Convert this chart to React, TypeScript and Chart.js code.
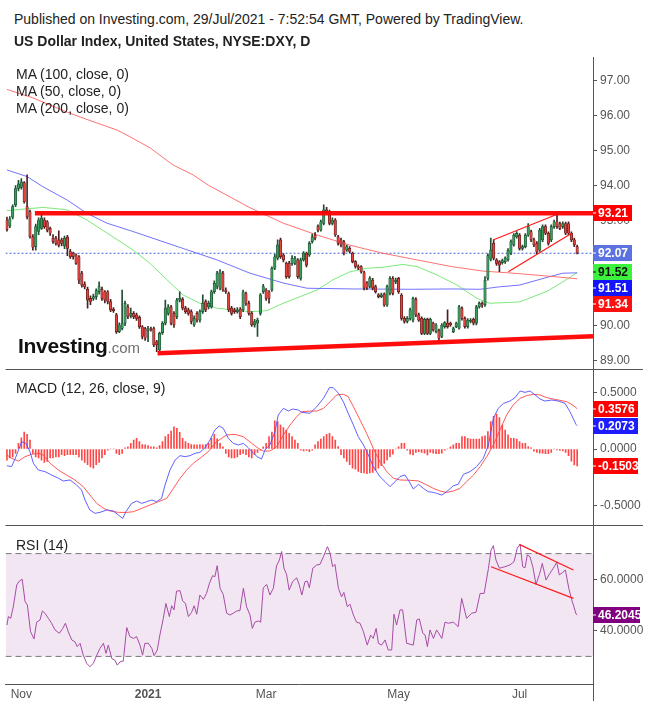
import React, { useEffect, useRef } from 'react';
import { Chart, registerables } from 'chart.js';

Chart.register(...registerables);

const FONT = "'Liberation Sans', Arial, Helvetica, sans-serif";

// ---------------- data (bar index = trading day, 0 .. 198) ----------------
const openPrices = [
  93.02, 92.85, 93.10, 93.45, 93.92, 93.95, 94.09, 93.40, 93.26, 92.54,
  92.26, 92.69, 92.78, 93.02, 92.97, 92.78, 92.50, 92.50, 92.45, 92.45,
  92.28, 92.53, 92.12, 92.07, 92.02, 91.97, 91.50, 91.19, 91.04, 90.78,
  90.78, 90.83, 90.97, 91.04, 90.97, 90.97, 90.69, 90.47, 90.31, 89.83,
  89.92, 90.07, 90.54, 90.28, 90.35, 90.31, 90.24, 89.97, 89.92, 89.86,
  89.92, 89.92, 89.54, 89.31, 89.80, 90.07, 90.35, 90.54, 90.35, 90.26,
  90.73, 90.75, 90.50, 90.45, 90.40, 90.02, 90.35, 90.16, 90.40, 90.69,
  90.54, 90.54, 90.97, 91.12, 91.07, 91.50, 91.02, 90.92, 90.50, 90.45,
  90.40, 90.47, 90.45, 90.92, 90.64, 90.35, 90.02, 90.07, 90.35, 90.97,
  91.02, 90.97, 91.02, 91.64, 91.93, 92.45, 92.02, 91.78, 91.78, 91.78,
  91.78, 91.88, 91.35, 91.88, 92.07, 92.02, 92.40, 92.59, 92.83, 92.73,
  92.92, 93.31, 93.26, 92.92, 93.02, 92.54, 92.45, 92.40, 92.16, 92.21,
  92.07, 91.83, 91.69, 91.69, 91.52, 91.23, 91.12, 91.30, 91.12, 90.88,
  90.83, 90.90, 90.59, 90.92, 91.35, 91.26, 91.35, 90.87, 90.21, 90.12,
  90.21, 90.16, 90.75, 90.31, 90.21, 89.78, 90.18, 89.78, 90.07, 89.83,
  89.86, 89.69, 89.97, 90.07, 90.07, 89.83, 89.97, 89.93, 90.50, 90.21,
  89.97, 90.12, 90.18, 90.07, 90.54, 90.64, 90.60, 91.35, 91.90, 92.35,
  91.88, 91.83, 91.80, 91.83, 91.88, 92.07, 92.31, 92.54, 92.59, 92.21,
  92.26, 92.59, 92.69, 92.45, 92.35, 92.16, 92.45, 92.83, 92.64, 92.45,
  92.83, 92.97, 92.92, 92.83, 92.92, 92.92, 92.64, 92.45, 92.26,
];
const closePrices = [
  92.75, 93.05, 93.40, 93.92, 94.05, 94.11, 93.54, 93.11, 92.54, 92.24,
  92.83, 93.02, 93.07, 92.83, 92.73, 92.64, 92.40, 92.35, 92.30, 92.35,
  92.50, 92.21, 91.97, 91.97, 91.78, 91.30, 91.16, 91.11, 90.73, 90.69,
  90.83, 91.00, 91.12, 90.78, 90.73, 90.69, 90.45, 90.43, 89.83, 90.02,
  90.07, 90.64, 90.26, 90.35, 90.26, 90.21, 89.97, 89.69, 89.64, 89.92,
  89.88, 89.45, 89.45, 89.78, 90.07, 90.50, 90.54, 90.07, 90.02, 90.73,
  90.78, 90.50, 90.40, 90.35, 90.12, 90.21, 90.16, 90.40, 90.64, 90.45,
  90.64, 90.97, 91.21, 91.50, 91.54, 91.02, 90.97, 90.45, 90.35, 90.40,
  90.45, 90.26, 90.97, 90.64, 90.35, 90.02, 90.12, 90.16, 90.88, 91.12,
  90.78, 90.78, 91.64, 91.97, 92.31, 91.97, 91.88, 91.40, 91.40, 91.93,
  91.93, 91.40, 91.88, 92.07, 91.73, 92.35, 92.54, 92.50, 92.73, 92.97,
  93.31, 93.26, 92.92, 93.02, 92.59, 92.35, 92.30, 92.07, 92.26, 92.12,
  91.83, 91.69, 91.64, 91.54, 91.07, 91.07, 91.35, 91.07, 90.97, 90.83,
  90.88, 90.59, 91.12, 91.35, 90.92, 91.30, 90.97, 90.21, 90.12, 90.21,
  90.45, 90.78, 90.31, 90.16, 89.78, 90.18, 89.78, 90.18, 89.88, 90.02,
  89.64, 90.02, 90.09, 89.97, 90.02, 89.92, 90.07, 90.54, 90.21, 89.97,
  90.16, 90.16, 90.07, 90.54, 90.64, 90.59, 91.30, 92.00, 92.16, 91.93,
  91.78, 91.73, 91.86, 91.93, 92.16, 92.40, 92.59, 92.64, 92.21, 92.26,
  92.59, 92.83, 92.45, 92.31, 92.11, 92.73, 92.83, 92.64, 92.35, 92.83,
  92.97, 92.83, 92.78, 92.92, 92.64, 92.64, 92.45, 92.31, 92.07,
];
const highPrices = [
  93.10, 93.12, 93.45, 94.00, 94.15, 94.20, 94.12, 94.31, 93.30, 92.60,
  92.90, 93.08, 93.21, 93.08, 93.00, 92.82, 92.60, 92.55, 92.71, 92.50,
  92.56, 92.58, 92.18, 92.10, 92.05, 92.00, 91.55, 91.25, 91.10, 90.85,
  90.90, 91.05, 91.25, 91.10, 91.00, 91.00, 90.75, 90.52, 90.35, 90.08,
  91.02, 90.70, 90.60, 90.50, 90.40, 90.36, 90.28, 90.00, 89.95, 89.98,
  89.96, 89.96, 89.58, 89.82, 90.12, 90.73, 90.60, 90.58, 90.40, 90.78,
  90.97, 90.80, 90.55, 90.50, 90.45, 90.28, 90.40, 90.45, 90.88, 90.74,
  90.70, 91.02, 91.28, 91.55, 91.60, 91.55, 91.08, 90.96, 90.55, 90.50,
  90.52, 90.52, 91.02, 90.96, 90.70, 90.40, 90.18, 90.22, 90.92, 91.18,
  91.06, 91.00, 91.68, 92.04, 92.45, 92.50, 92.06, 91.82, 91.84, 92.00,
  91.98, 91.92, 91.93, 92.12, 92.10, 92.40, 92.62, 92.66, 92.88, 93.02,
  93.45, 93.38, 93.30, 93.08, 93.06, 92.58, 92.50, 92.44, 92.30, 92.26,
  92.10, 91.86, 91.74, 91.72, 91.56, 91.26, 91.40, 91.35, 91.16, 90.92,
  90.93, 90.94, 91.16, 91.40, 91.40, 91.36, 91.38, 90.92, 90.26, 90.26,
  90.50, 90.82, 90.80, 90.36, 90.25, 90.22, 90.22, 90.22, 90.10, 90.06,
  89.90, 90.06, 90.12, 90.45, 90.10, 89.96, 90.10, 90.58, 90.54, 90.25,
  90.20, 90.20, 90.22, 90.58, 90.68, 90.68, 91.40, 92.05, 92.50, 92.45,
  91.92, 91.86, 91.90, 91.97, 92.20, 92.45, 92.63, 92.69, 92.63, 92.30,
  92.63, 92.92, 92.73, 92.50, 92.40, 92.78, 92.88, 92.88, 92.68, 92.88,
  93.02, 93.19, 92.96, 92.97, 92.96, 92.97, 92.68, 92.50, 92.30,
];
const lowPrices = [
  92.70, 92.80, 93.05, 93.40, 93.85, 93.90, 93.50, 93.05, 92.50, 92.16,
  92.16, 92.60, 92.75, 92.78, 92.68, 92.58, 92.35, 92.30, 92.25, 92.28,
  92.20, 92.00, 91.92, 91.90, 91.75, 91.20, 91.10, 91.05, 90.50, 90.60,
  90.72, 90.75, 90.90, 90.72, 90.65, 90.62, 90.40, 90.38, 89.78, 89.80,
  89.88, 90.00, 90.20, 90.22, 90.20, 90.15, 89.92, 89.62, 89.58, 89.54,
  89.84, 89.40, 89.26, 89.28, 89.75, 90.02, 90.30, 90.02, 89.95, 90.20,
  90.68, 90.45, 90.35, 90.30, 90.05, 89.98, 90.10, 90.10, 90.35, 90.40,
  90.48, 90.50, 90.92, 91.05, 91.02, 90.98, 90.92, 90.40, 90.30, 90.35,
  90.36, 90.20, 90.40, 90.58, 90.30, 89.98, 89.96, 89.69, 90.30, 90.92,
  90.72, 90.64, 90.98, 91.60, 91.88, 91.92, 91.82, 91.35, 91.36, 91.72,
  91.74, 91.35, 91.30, 91.84, 91.68, 91.98, 92.36, 92.45, 92.68, 92.70,
  92.88, 93.20, 92.88, 92.88, 92.55, 92.30, 92.25, 92.02, 92.12, 92.08,
  91.79, 91.64, 91.60, 91.50, 91.02, 91.03, 91.08, 91.02, 90.93, 90.79,
  90.80, 90.55, 90.55, 90.88, 90.88, 91.20, 90.92, 90.16, 90.07, 90.08,
  90.16, 90.11, 90.26, 90.12, 89.74, 89.74, 89.74, 89.74, 89.84, 89.79,
  89.59, 89.66, 89.93, 89.93, 89.98, 89.80, 89.94, 89.90, 90.16, 89.93,
  89.93, 90.08, 90.02, 90.02, 90.50, 90.52, 90.55, 91.30, 91.85, 91.88,
  91.72, 91.54, 91.76, 91.78, 91.84, 92.03, 92.27, 92.50, 92.16, 92.16,
  92.22, 92.55, 92.40, 92.26, 92.06, 92.12, 92.40, 92.60, 92.30, 92.40,
  92.78, 92.78, 92.74, 92.78, 92.60, 92.60, 92.40, 92.26, 92.05,
];

// moving averages, read as [bar index, value]
const ma50Points = [
  [0, 93.29], [12.5, 93.38], [20.9, 93.31], [27.8, 93.02], [32.3, 92.78], [43.8, 92.16],
  [49.7, 91.78], [55.6, 91.31], [61.1, 90.88], [67, 90.64], [72.9, 90.50], [84.4, 90.40],
  [90.3, 90.43], [95.9, 90.64], [101.8, 90.83], [107.7, 91.02], [113.2, 91.31], [119.1, 91.54],
  [125, 91.64], [130.6, 91.67], [137.5, 91.75], [142.4, 91.69], [149.3, 91.45], [156.3, 91.16],
  [163.2, 90.78], [167.7, 90.64], [178, 90.68], [187.5, 90.98], [193, 91.25], [198, 91.52],
];
const ma100Points = [
  [0, 94.45], [7, 94.26], [12.5, 93.97], [20.9, 93.59], [27.8, 93.21], [34.7, 92.93],
  [43.8, 92.69], [55.6, 92.36], [62.5, 92.17], [72.9, 91.88], [84.4, 91.50], [95.9, 91.22],
  [104.2, 91.07], [120, 91.05], [140, 91.04], [155, 91.05], [164.3, 91.04], [171, 91.11],
  [178, 91.16], [187.5, 91.38], [193, 91.50], [198, 91.51],
];
const ma200Points = [
  [0, 96.75], [9, 96.51], [20.9, 96.10], [29.9, 95.83], [38.2, 95.59], [42.7, 95.40],
  [49.7, 95.08], [57.7, 94.59], [64.6, 94.31], [69.8, 94.02], [84.4, 93.37], [95.9, 92.93],
  [107.7, 92.59], [119.1, 92.30], [130.6, 92.07], [142.4, 91.88], [154.3, 91.69], [165.3, 91.56],
  [175.7, 91.50], [187.5, 91.42], [198, 91.34],
];

// drawn trend lines
const resistanceLevel = 93.21;
const resistanceStart = 9.7;
const supportLine = [[52.3, 89.21], [203.5, 89.70]];
const wedgeUpper = [[168.8, 92.45], [191.3, 93.19]];
const wedgeLower = [[174.1, 91.54], [196.1, 92.64]];

// MACD (12, 26, close, 9)
const macdHist = [
  -0.10, -0.08, -0.07, -0.04, 0.05, 0.10, 0.15, 0.13, 0.08,
  -0.04, -0.07, -0.08, -0.10, -0.12, -0.11, -0.08, -0.08, -0.07, -0.07,
  -0.05, -0.06, -0.05, -0.05, -0.05, -0.05, -0.07, -0.10, -0.12, -0.14,
  -0.16, -0.17, -0.14, -0.12, -0.08, -0.05,
  -0.01, 0.00, 0.00,
  -0.04, -0.05, -0.04,
  0.01, 0.02, 0.05, 0.08, 0.095, 0.065, 0.04, 0.036, 0.03, 0.02,
  0.02, 0.01, 0.03,
  0.065, 0.11, 0.13, 0.16, 0.198, 0.184, 0.148, 0.095, 0.065, 0.05, 0.04, 0.036,
  0.036, 0.04, 0.036, 0.04,
  0.05, 0.095, 0.13, 0.09, 0.05, 0.02,
  -0.04, -0.07, -0.08, -0.08, -0.07, -0.05, -0.04, -0.05, -0.07, -0.08, -0.05,
  -0.03, -0.01, 0.02,
  0.05, 0.11, 0.15, 0.25, 0.243, 0.213, 0.19, 0.169, 0.14, 0.11, 0.08, 0.05,
  -0.01, -0.018, -0.012, -0.024, -0.01,
  0.036, 0.065, 0.089, 0.11, 0.13, 0.139, 0.11, 0.08, 0.021,
  -0.05, -0.08, -0.11, -0.14, -0.17, -0.18, -0.20, -0.21, -0.213, -0.22,
  -0.213, -0.207, -0.19, -0.17, -0.148, -0.127, -0.098, -0.068, -0.047,
  0.00, 0.02, 0.05, 0.05,
  -0.01, -0.047, -0.053, -0.03, -0.024, -0.03, -0.038, -0.053, -0.03, -0.038,
  -0.042, -0.042, -0.036, -0.01,
  0.00,
  0.02, 0.036, 0.05, 0.05, 0.11, 0.11, 0.095, 0.089, 0.089, 0.089, 0.089, 0.11, 0.118, 0.154,
  0.243, 0.29, 0.31, 0.28, 0.213,
  0.169, 0.125, 0.095, 0.095, 0.089, 0.065, 0.05, 0.05, 0.021, 0.01,
  -0.02, -0.03, -0.038, -0.038, -0.042, -0.042, -0.03, 0.00, -0.009, -0.012, -0.018,
  -0.03, -0.06, -0.107, -0.142, -0.1503,
];
const macdLine = [
  [0, -0.148], [1.6, -0.157], [3.4, -0.053], [5.1, 0.065], [6.6, 0.05], [8, -0.024], [9.2, -0.127],
  [10.9, -0.187], [13.2, -0.201], [15.5, -0.231], [17.9, -0.26], [19.6, -0.284], [21.9, -0.275],
  [24.2, -0.32], [25.9, -0.364], [27.1, -0.453], [28.8, -0.542], [30.6, -0.571], [32.3, -0.563],
  [34.6, -0.542], [36.9, -0.55], [38.7, -0.586], [40.2, -0.616], [41.3, -0.557], [43.3, -0.483],
  [45, -0.462], [46.8, -0.483], [48.5, -0.468], [50.3, -0.453], [52, -0.468], [53.7, -0.438],
  [54.9, -0.32], [56.6, -0.187], [58.4, -0.098], [60.1, -0.059], [61.8, -0.068], [63.6, -0.059],
  [65.3, -0.038], [67, -0.03], [68.8, 0.012], [70.5, 0.08], [72.2, 0.169], [73.7, 0.204],
  [75.1, 0.184], [76.9, 0.095], [78.6, 0.05], [80.4, 0.036], [82.1, 0.05], [83.8, 0.012],
  [85.6, -0.038], [86.9, -0.068], [88.4, -0.089], [89.6, -0.009], [91.3, 0.036], [93.1, 0.154],
  [94.2, 0.302], [96, 0.361], [97.7, 0.338], [99.2, 0.355], [101.2, 0.346], [102.4, 0.326],
  [105.2, 0.317], [107.6, 0.376], [109.9, 0.45], [112, 0.545], [113.3, 0.545], [115.1, 0.495],
  [116.8, 0.42], [118.5, 0.317], [120.3, 0.213], [122, 0.109], [123.8, 0.036], [125.5, -0.053],
  [127.2, -0.157], [129.5, -0.245], [131.3, -0.29], [133, -0.334], [134.8, -0.29], [136.5, -0.245],
  [138.2, -0.23], [139.7, -0.29], [141.1, -0.355], [142.9, -0.314], [144.6, -0.35], [146.3, -0.379],
  [148.1, -0.385], [149.2, -0.394], [151, -0.409], [152.7, -0.379], [155, -0.326], [156.7, -0.314],
  [158.5, -0.225], [160.8, -0.201], [163.1, -0.157], [165.4, -0.083], [167.2, 0.036], [168.9, 0.272],
  [170.6, 0.361], [172.4, 0.405], [174.7, 0.426], [176.4, 0.456], [178.2, 0.515], [179.9, 0.503],
  [181.6, 0.515], [183.4, 0.48], [185.1, 0.444], [186.8, 0.426], [189.2, 0.435], [191.5, 0.426],
  [193.8, 0.405], [195.5, 0.331], [197.6, 0.219], [198, 0.2073],
];
const signalLine = [
  [0, -0.053], [1.6, -0.083], [4, -0.107], [6.3, -0.068], [8.6, -0.047], [10.9, -0.038],
  [12.6, -0.053], [15, -0.127], [17.9, -0.187], [20.7, -0.231], [23.6, -0.275], [26.5, -0.334],
  [28.8, -0.408], [31.2, -0.483], [33.5, -0.527], [35.8, -0.55], [38.7, -0.563], [41.6, -0.563],
  [43.9, -0.557], [46.8, -0.527], [49.7, -0.497], [52.6, -0.468], [55.5, -0.438], [57.8, -0.35],
  [60.1, -0.26], [62.4, -0.187], [64.7, -0.127], [67, -0.083], [69.9, -0.024], [72.8, 0.065],
  [76.3, 0.125], [79.2, 0.13], [82.1, 0.109], [85, 0.05], [87.3, 0.006], [89, -0.018],
  [91.3, -0.018], [93.7, 0.021], [96, 0.125], [98.3, 0.213], [100.6, 0.287], [102.4, 0.331],
  [105.2, 0.337], [107.6, 0.337], [109.9, 0.361], [112.2, 0.42], [114.5, 0.48], [116.8, 0.486],
  [118.5, 0.465], [120.3, 0.376], [122.6, 0.258], [124.9, 0.139], [127.2, 0.006], [129.5, -0.112],
  [131.9, -0.201], [134.2, -0.26], [136.5, -0.275], [140, -0.278], [142.9, -0.284], [145.8, -0.32],
  [148.1, -0.35], [150.4, -0.373], [152.7, -0.385], [155, -0.373], [157.3, -0.35], [159.6, -0.29],
  [162, -0.231], [164.3, -0.157], [166.6, -0.068], [168.9, 0.036], [171.2, 0.169], [173.5, 0.302],
  [175.8, 0.391], [178.2, 0.45], [180.5, 0.474], [182.8, 0.486], [185.1, 0.48], [187.4, 0.456],
  [189.7, 0.444], [192, 0.432], [194.4, 0.42], [196.4, 0.391], [197.6, 0.367], [198, 0.3576],
];

// RSI (14)
const rsiPoints = [
  [0, 42.2], [0.5, 45.5], [1.3, 44.8], [2.2, 49.3], [3.4, 57.8], [4.3, 59.3], [5.3, 60.0],
  [6.3, 51.3], [7.1, 50.0], [8.2, 39.6], [9.4, 36.8], [10.3, 43.3], [11.5, 44.2], [12.3, 47.7],
  [13.2, 46.8], [14.4, 44.8], [15.5, 42.9], [16.7, 40.3], [18.2, 39.0], [19.4, 40.9], [20.3, 42.9],
  [21.3, 39.6], [22.5, 36.4], [23.6, 35.7], [24.4, 33.8], [25.4, 35.1], [26.5, 30.5], [27.7, 27.3],
  [28.8, 26.0], [30, 27.3], [31.2, 30.5], [32.3, 33.1], [33.5, 35.1], [34.4, 31.2], [35.2, 34.4],
  [36.4, 29.2], [37.5, 28.5], [38.3, 26.6], [39.3, 27.9], [40.4, 28.2], [41.6, 41.2], [42.7, 37.7],
  [43.9, 37.0], [45, 37.7], [46.2, 34.4], [47.1, 30.5], [47.9, 35.1], [49.1, 35.1], [50.3, 33.1],
  [51.1, 30.3], [52.2, 32.5], [53.1, 38.3], [54.3, 44.8], [55.2, 50.6], [56.4, 45.5], [57.2, 49.7],
  [58, 48.1], [58.9, 55.4], [60.1, 55.6], [61, 51.6], [62, 50.6], [63, 45.5], [64.1, 47.1],
  [65, 49.7], [65.9, 46.4], [67, 53.9], [68.2, 52.2], [69.3, 54.5], [70.3, 58.4], [71.4, 61.4],
  [72.2, 61.0], [73, 65.3], [74, 56.5], [75.1, 54.1], [76.3, 46.8], [77.4, 46.1], [78.6, 46.8],
  [79.8, 47.7], [80.9, 47.8], [82.1, 56.5], [83.2, 49.3], [84.4, 46.1], [85.2, 40.9], [86.1, 43.3],
  [87.3, 43.8], [88.1, 43.3], [89, 56.7], [90.2, 58.0], [91.3, 53.9], [92.5, 56.5], [93.6, 65.2],
  [94.6, 67.5], [95.4, 70.8], [96.2, 64.3], [97.1, 61.9], [98, 55.8], [99.2, 59.1], [100.6, 60.6],
  [101.5, 57.8], [102.4, 53.9], [103.5, 59.1], [104.3, 59.3], [105, 56.7], [106.2, 64.3],
  [107.6, 65.6], [108.7, 65.8], [109.9, 68.8], [111.3, 72.7], [112.2, 70.1], [113.1, 64.9],
  [113.9, 65.8], [115.1, 56.5], [116.2, 53.2], [117, 54.9], [118.2, 49.3], [119.1, 50.3],
  [120.3, 46.1], [121.4, 43.3], [122.6, 42.9], [123.8, 39.6], [125.1, 34.4], [126.3, 38.3],
  [127.2, 37.0], [128.2, 40.9], [129, 35.1], [130.1, 34.4], [131.3, 36.4], [132.4, 32.5],
  [133.6, 32.5], [134.4, 46.4], [135.3, 42.2], [136.5, 48.1], [137.4, 48.1], [138.8, 35.1],
  [141.1, 34.4], [142.3, 44.2], [143.2, 44.6], [144.4, 39.0], [145.2, 38.3], [146, 33.8],
  [146.9, 40.3], [148.1, 37.0], [149.2, 40.3], [151, 37.0], [152.1, 43.3], [153.3, 42.9],
  [155, 43.3], [156.7, 41.6], [157.9, 52.6], [159.6, 44.8], [161.4, 46.8], [162.9, 47.2],
  [164.3, 54.5], [165.7, 54.5], [167.2, 64.3], [168.1, 71.4], [168.9, 73.1], [169.8, 67.5],
  [171, 64.3], [172.9, 64.9], [174.7, 65.6], [176.1, 66.9], [177.2, 72.1], [178.2, 73.6],
  [179.1, 64.9], [179.9, 64.5], [180.7, 69.5], [181.6, 68.8], [182.6, 64.9], [183.7, 58.0],
  [184.9, 61.9], [185.9, 66.2], [187.2, 59.7], [188.3, 61.9], [189.7, 64.3], [190.9, 66.6],
  [191.8, 61.7], [193, 62.7], [193.9, 63.6], [195.1, 56.5], [196.1, 52.0], [196.7, 50.0],
  [197.6, 46.5], [198, 46.2045],
];
const rsiUpperTrend = [[177.9, 73.6], [196.7, 63.6]];
const rsiLowerTrend = [[168.1, 64.9], [196.7, 52.6]];
const rsiBandLevels = [70, 30];

// axis ticks
const priceTicks = [89, 90, 91, 92, 93, 94, 95, 96, 97];
const macdTicks = [-0.5, 0, 0.5];
const rsiTicks = [40, 60];
const monthTicks: [number, string][] = [[5, 'Nov'], [49, '2021'], [90, 'Mar'], [136, 'May'], [178, 'Jul']];

// ---------------- layout ----------------
const X_MIN = -0.5;
const X_MAX = 203.5;
const PRICE_RANGE = [88.734, 97.677];
const MACD_RANGE = [-0.6838, 0.7016];
const RSI_RANGE = [19.26, 80.74];
const W = 653;
const PANEL_A = { top: 57, h: 313 };
const PANEL_B = { top: 370, h: 156 };
const PANEL_C = { top: 526, h: 175 };
const AXIS_W = 60;

const pts = (arr: number[][]) => arr.map(([x, y]) => ({ x, y }));
const last = (arr: number[][]) => arr[arr.length - 1][1];

function xScale(show: boolean): any {
  if (!show) return { type: 'linear', min: X_MIN, max: X_MAX, display: false, offset: false };
  return {
    type: 'linear', min: X_MIN, max: X_MAX, offset: false,
    afterBuildTicks: (s: any) => { s.ticks = monthTicks.map(([v]) => ({ value: v })); },
    afterFit: (s: any) => { s.height = 17; s.paddingLeft = 0; s.paddingRight = 0; },
    grid: { display: false, drawTicks: false },
    border: { display: true, color: '#555', width: 1 },
    ticks: {
      autoSkip: false, maxRotation: 0, padding: 3, color: '#555',
      callback: (v: any) => { const m = monthTicks.find((t) => t[0] === v); return m ? m[1] : ''; },
      font: (ctx: any) => ({ family: FONT, size: 12, weight: ctx.tick && ctx.tick.label === '2021' ? 'bold' : 'normal' }),
    },
  };
}

function yScale(range: number[], ticks: number[], digits: number): any {
  return {
    position: 'right', min: range[0], max: range[1], beginAtZero: false,
    afterBuildTicks: (s: any) => { s.ticks = ticks.map((v) => ({ value: v })); },
    afterFit: (s: any) => { s.width = AXIS_W; s.paddingTop = 0; s.paddingBottom = 0; },
    grid: { drawOnChartArea: false, drawTicks: true, tickLength: 4, color: '#555', tickColor: '#555' },
    border: { display: true, color: '#555', width: 1 },
    ticks: { color: '#555', padding: 3, autoSkip: false, font: { family: FONT, size: 12 }, callback: (v: any) => Number(v).toFixed(digits) },
  };
}

type Tag = { value: number; text: string; bg: string; fg: string };
function tagPlugin(id: string, tags: Tag[], width: number) {
  return {
    id,
    afterDraw(chart: any) {
      const { ctx, chartArea, scales } = chart;
      const sorted = [...tags].sort((a, b) => b.value - a.value);
      let prev = -Infinity;
      ctx.save();
      ctx.font = `bold 12px ${FONT}`;
      ctx.textBaseline = 'middle';
      ctx.textAlign = 'left';
      for (const t of sorted) {
        let y = scales.y.getPixelForValue(t.value);
        if (y < prev + 16) y = prev + 16;
        prev = y;
        const x = chartArea.right;
        const top = Math.round(y - 8);
        ctx.fillStyle = t.bg;
        ctx.fillRect(x, top, width, 16);
        ctx.fillStyle = t.fg;
        ctx.fillRect(x, top + 7.5, 3, 1);
        ctx.fillText(t.text, x + 5, top + 8.5);
      }
      ctx.restore();
    },
  };
}

const separatorPlugin = {
  id: 'separator',
  afterDraw(chart: any) {
    const { ctx, chartArea } = chart;
    ctx.save();
    ctx.strokeStyle = '#555';
    ctx.lineWidth = 1;
    const y = Math.round(chartArea.bottom) - 0.5;
    ctx.beginPath();
    ctx.moveTo(chartArea.left, y);
    ctx.lineTo(643, y);
    ctx.stroke();
    ctx.restore();
  },
};

const axisTailPlugin = {
  id: 'axisTail',
  afterDraw(chart: any) {
    const { ctx, chartArea } = chart;
    ctx.save();
    ctx.strokeStyle = '#555';
    ctx.lineWidth = 1;
    const x = Math.round(chartArea.right) + 0.5;
    ctx.beginPath();
    ctx.moveTo(x, chartArea.bottom);
    ctx.lineTo(x, chart.height);
    ctx.stroke();
    ctx.restore();
  },
};

const baseOptions = (scales: any) => ({
  responsive: false,
  animation: false,
  events: [],
  layout: { padding: { left: 5.5, right: 0, top: 0, bottom: 0 } },
  plugins: { legend: { display: false }, tooltip: { enabled: false } },
  elements: { point: { radius: 0 }, line: { tension: 0, borderWidth: 1, fill: false } },
  scales,
});

const lineDs = (data: number[][], color: string, width: number, order: number, extra: any = {}) => ({
  type: 'line', data: pts(data), borderColor: color, borderWidth: width, pointRadius: 0, fill: false, order, ...extra,
});

function priceConfig(): any {
  const idx = closePrices.map((_, i) => i);
  const up = (i: number) => closePrices[i] >= openPrices[i];
  const lastClose = closePrices[closePrices.length - 1];
  const tags: Tag[] = [
    { value: resistanceLevel, text: resistanceLevel.toFixed(2), bg: '#ff0000', fg: '#ffffff' },
    { value: lastClose, text: lastClose.toFixed(2), bg: '#5c72e0', fg: '#ffffff' },
    { value: last(ma50Points), text: last(ma50Points).toFixed(2), bg: '#3cf23c', fg: '#111111' },
    { value: last(ma100Points), text: last(ma100Points).toFixed(2), bg: '#1414ff', fg: '#ffffff' },
    { value: last(ma200Points), text: last(ma200Points).toFixed(2), bg: '#ff1010', fg: '#ffffff' },
  ];
  return {
    type: 'bar',
    data: {
      datasets: [
        lineDs([[resistanceStart, resistanceLevel], [X_MAX, resistanceLevel]], 'rgba(255,0,0,0.95)', 4.5, 0),
        lineDs(supportLine, 'rgba(255,0,0,0.95)', 4.5, 0),
        lineDs(wedgeUpper, '#ff1a1a', 1.2, 0),
        lineDs(wedgeLower, '#ff1a1a', 1.2, 0),
        {
          type: 'bar', order: 1, grouped: false, barThickness: 2.5, minBarLength: 1, borderSkipped: false,
          data: idx.map((i) => ({ x: i, y: [openPrices[i], closePrices[i]] })),
          backgroundColor: idx.map((i) => (up(i) ? '#3a9e5c' : '#e4443e')),
          borderColor: idx.map((i) => (up(i) ? '#1c4b30' : '#5a1c1c')),
          borderWidth: 0.7,
        },
        {
          type: 'bar', order: 2, grouped: false, barThickness: 1,
          data: idx.map((i) => ({ x: i, y: [lowPrices[i], highPrices[i]] })),
          backgroundColor: idx.map((i) => (up(i) ? '#1f4f33' : '#4d2020')),
        },
        lineDs(ma200Points, 'rgba(255,90,90,0.85)', 1, 3),
        lineDs(ma100Points, 'rgba(90,90,255,0.85)', 1, 3),
        lineDs(ma50Points, 'rgba(110,230,110,0.9)', 1, 3),
        lineDs([[X_MIN, lastClose], [X_MAX, lastClose]], '#3f5fd0', 1, 4, { borderDash: [2, 2] }),
      ],
    },
    options: baseOptions({ x: xScale(false), y: yScale(PRICE_RANGE, priceTicks, 2) }),
    plugins: [separatorPlugin, tagPlugin('priceTags', tags, 39)],
  };
}

function macdConfig(): any {
  const histLast = macdHist[macdHist.length - 1];
  const tags: Tag[] = [
    { value: last(signalLine), text: last(signalLine).toFixed(4), bg: '#ff0000', fg: '#ffffff' },
    { value: last(macdLine), text: last(macdLine).toFixed(4), bg: '#1c1cff', fg: '#ffffff' },
    { value: histLast, text: histLast.toFixed(4), bg: '#ff0000', fg: '#ffffff' },
  ];
  return {
    type: 'bar',
    data: {
      datasets: [
        lineDs(macdLine, 'rgba(80,80,255,0.9)', 1, 0),
        lineDs(signalLine, 'rgba(255,70,70,0.9)', 1, 1),
        {
          type: 'bar', order: 2, grouped: false, barThickness: 1,
          data: macdHist.map((v, i) => ({ x: i, y: v })),
          backgroundColor: 'rgba(255,50,50,0.9)',
        },
      ],
    },
    options: baseOptions({ x: xScale(false), y: yScale(MACD_RANGE, macdTicks, 4) }),
    plugins: [separatorPlugin, tagPlugin('macdTags', tags, 45)],
  };
}

function rsiConfig(): any {
  const tags: Tag[] = [{ value: last(rsiPoints), text: last(rsiPoints).toFixed(4), bg: '#800080', fg: '#ffffff' }];
  return {
    type: 'line',
    data: {
      datasets: [
        lineDs(rsiUpperTrend, '#ff1a1a', 1.2, 0),
        lineDs(rsiLowerTrend, '#ff1a1a', 1.2, 0),
        lineDs(rsiPoints, '#a64ca6', 1, 1),
        lineDs([[X_MIN, rsiBandLevels[0]], [X_MAX, rsiBandLevels[0]]], '#7a7a7a', 1, 5,
          { borderDash: [6, 4], fill: '+1', backgroundColor: 'rgba(150,50,150,0.12)' }),
        lineDs([[X_MIN, rsiBandLevels[1]], [X_MAX, rsiBandLevels[1]]], '#7a7a7a', 1, 5, { borderDash: [6, 4] }),
      ],
    },
    options: baseOptions({ x: xScale(true), y: yScale(RSI_RANGE, rsiTicks, 4) }),
    plugins: [axisTailPlugin, tagPlugin('rsiTags', tags, 47)],
  };
}

const textStyle: React.CSSProperties = { position: 'absolute', fontFamily: FONT, color: '#222', whiteSpace: 'nowrap', fontSize: 14, lineHeight: '16px' };

export default function App() {
  const aRef = useRef<HTMLCanvasElement>(null);
  const bRef = useRef<HTMLCanvasElement>(null);
  const cRef = useRef<HTMLCanvasElement>(null);

  useEffect(() => {
    Chart.defaults.font.family = FONT;
    const charts = [
      new Chart(aRef.current as HTMLCanvasElement, priceConfig()),
      new Chart(bRef.current as HTMLCanvasElement, macdConfig()),
      new Chart(cRef.current as HTMLCanvasElement, rsiConfig()),
    ];
    return () => charts.forEach((c) => c.destroy());
  }, []);

  const canvasStyle = (p: { top: number; h: number }): React.CSSProperties => ({
    position: 'absolute', left: 0, top: p.top, width: W, height: p.h, display: 'block',
  });

  return (
    <div style={{ position: 'fixed', left: 0, top: 0, width: W, height: 701, background: '#fff', overflow: 'hidden' }}>
      <canvas ref={aRef} width={W} height={PANEL_A.h} style={canvasStyle(PANEL_A)} />
      <canvas ref={bRef} width={W} height={PANEL_B.h} style={canvasStyle(PANEL_B)} />
      <canvas ref={cRef} width={W} height={PANEL_C.h} style={canvasStyle(PANEL_C)} />

      <div style={{ ...textStyle, left: 14, top: 10.5 }}>
        Published on Investing.com, 29/Jul/2021 - 7:52:54 GMT, Powered by TradingView.
      </div>
      <div style={{ ...textStyle, left: 14, top: 32.5, fontWeight: 'bold' }}>US Dollar Index, United States, NYSE:DXY, D</div>

      <div style={{ ...textStyle, left: 16, top: 66 }}>MA (100, close, 0)</div>
      <div style={{ ...textStyle, left: 16, top: 82.5 }}>MA (50, close, 0)</div>
      <div style={{ ...textStyle, left: 16, top: 99.5 }}>MA (200, close, 0)</div>

      <div style={{ ...textStyle, left: 16, top: 380 }}>MACD (12, 26, close, 9)</div>
      <div style={{ ...textStyle, left: 16, top: 536.5 }}>RSI (14)</div>

      <div style={{ position: 'absolute', left: 18, top: 336, fontFamily: FONT, whiteSpace: 'nowrap', lineHeight: '20px' }}>
        <span style={{ fontSize: 21, fontWeight: 'bold', color: '#111', letterSpacing: -0.3 }}>Investing</span>
        <span style={{ fontSize: 15, color: '#6e6e6e' }}>.com</span>
      </div>
    </div>
  );
}
